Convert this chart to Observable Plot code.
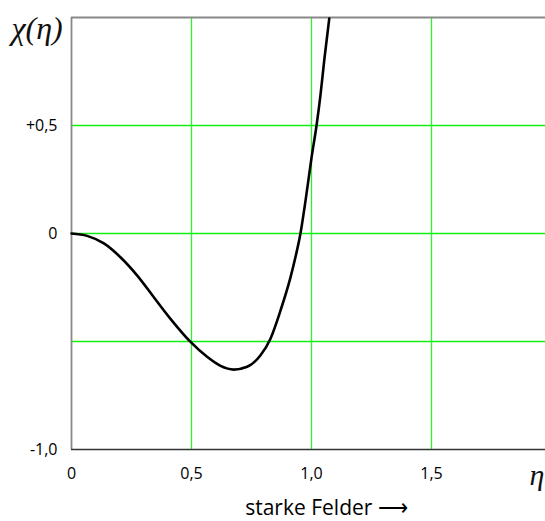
<!DOCTYPE html>
<html>
<head>
<meta charset="utf-8">
<script src="https://cdn.jsdelivr.net/npm/d3@7"></script>
<script src="https://cdn.jsdelivr.net/npm/@observablehq/plot@0.6"></script>
<style>
  html, body { margin: 0; padding: 0; background: #fff; }
  #chart svg { display: block; }
</style>
</head>
<body>
<div id="chart"></div>
<script>
// Curve χ(η)
const eta = [0, 0.065, 0.135, 0.204, 0.274, 0.343, 0.4125, 0.496, 0.565, 0.621, 0.676, 0.732, 0.7875, 0.829, 0.871, 0.9125, 0.933, 0.954, 0.975, 1.0, 1.021, 1.0375, 1.054, 1.074];
const chi = [0, -0.011, -0.046, -0.11, -0.195, -0.295, -0.395, -0.502, -0.571, -0.613, -0.63, -0.617, -0.564, -0.487, -0.356, -0.203, -0.11, 0, 0.151, 0.35, 0.5, 0.642, 0.811, 0.995];

// Grid and tick labels
const xGrid = [0.5, 1, 1.5];
const yGrid = [-0.5, 0, 0.5];
const xTicks = [0, 0.5, 1, 1.5];
const xTickLabels = ["0", "0,5", "1,0", "1,5"];
const yTicks = [-1, 0, 0.5];
const yTickLabels = ["-1,0", "0", "+0,5"];

const yLabel = "χ(η)";
const xLabel = "η";
const xCaption = "starke Felder ⟶";

const curve = eta.map((e, i) => ({eta: e, chi: chi[i]}));
const sans = "'Open Sans', 'Liberation Sans', sans-serif";
const serif = "'Liberation Serif', 'DejaVu Serif', serif";

const chart = Plot.plot({
  width: 545,
  height: 521,
  marginLeft: 71,
  marginRight: 0,
  marginTop: 17,
  marginBottom: 72,
  style: {fontFamily: sans, background: "#fff"},
  x: {domain: [0, 1.975]},
  y: {domain: [-1, 1]},
  marks: [
    Plot.ruleX(xGrid, {stroke: "#33ee33", strokeWidth: 1.3}),
    Plot.ruleY(yGrid, {stroke: "#11ee11", strokeWidth: 1.3}),
    Plot.ruleX([0], {stroke: "#888", strokeWidth: 1.8}),
    Plot.ruleY([1], {stroke: "#888", strokeWidth: 1.8}),
    Plot.ruleY([-1], {stroke: "#333", strokeWidth: 1.5}),
    Plot.axisX(xTicks, {tickSize: 0, tickPadding: 18, tickFormat: (d, i) => xTickLabels[i], fontSize: 16, fill: "#000", label: null}),
    Plot.axisY(yTicks, {tickSize: 0, tickPadding: 14, tickFormat: (d, i) => yTickLabels[i], fontSize: 16, fill: "#000", label: null}),
    Plot.line(curve, {x: "eta", y: "chi", curve: "monotone-x", stroke: "#000", strokeWidth: 2.6}),
    Plot.text([yLabel], {frameAnchor: "top-left", dx: -60, dy: 11, fontSize: 32, fontStyle: "italic", fontFamily: serif, fill: "#111", lineAnchor: "middle"}),
    Plot.text([xLabel], {frameAnchor: "bottom-right", dx: -1, dy: 26, fontSize: 30, fontStyle: "italic", fontFamily: serif, fill: "#111", lineAnchor: "middle"}),
    Plot.text([xCaption], {frameAnchor: "bottom", dx: 18, dy: 59, fontSize: 21, fill: "#000", lineAnchor: "middle"})
  ]
});
document.getElementById("chart").appendChild(chart);
</script>
</body>
</html>
